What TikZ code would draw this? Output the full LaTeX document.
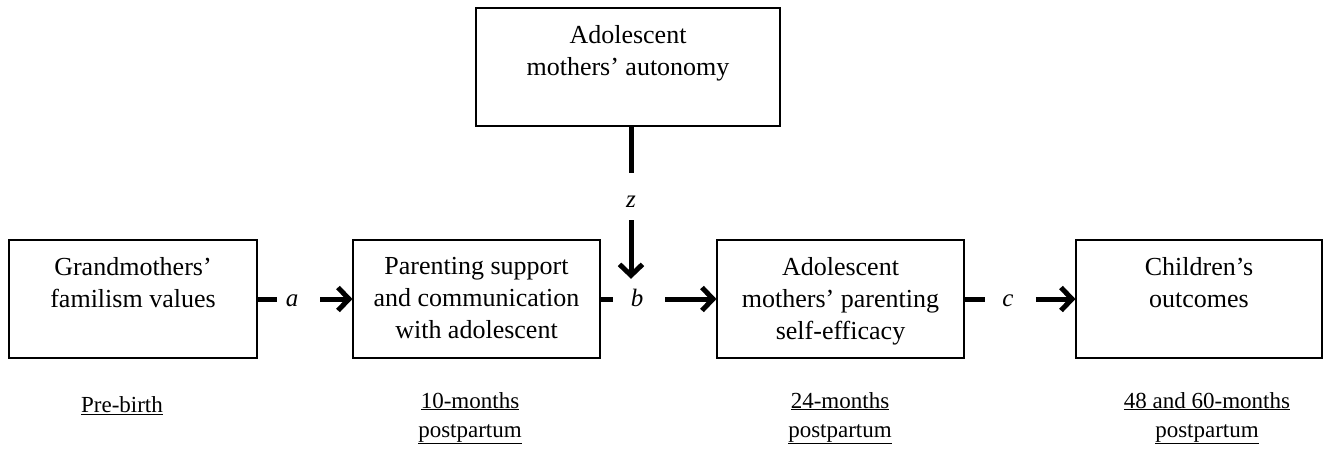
\documentclass[tikz,border=0pt]{standalone}
\usepackage{fontspec}
\setmainfont{Liberation Serif}
\usetikzlibrary{arrows.meta}

\begin{document}
\begin{tikzpicture}[x=1pt, y=-1pt,
  box/.style={draw, line width=1.1pt, minimum width=248pt, minimum height=118pt, inner sep=0pt},
  boxtext/.style={anchor=north, align=center, inner sep=0pt, yshift=-18pt, font=\fontsize{26}{32}\selectfont},
  pathlbl/.style={inner sep=0pt, text height=17pt, text depth=3pt, font=\fontsize{25}{30}\selectfont\itshape},
  stub/.style={line width=5pt},
  arr/.style={line width=5pt, -{Straight Barb[length=11pt, width=23pt]}},
  timelbl/.style={align=center, inner sep=0pt, font=\fontsize{23}{29}\selectfont}]
\useasboundingbox (0,0) rectangle (1329,449);

% boxes
\node[box] (gm) at (133,299) {};
\node[boxtext] (gmtxt) at (gm.north) {Grandmothers'\\familism values};
\node[box, minimum width=247pt] (ps) at (476.5,299) {};
\node[boxtext] (pstxt) at (ps.north) {Parenting support\\and communication\\with adolescent};
\node[box, minimum width=247pt] (se) at (840.5,299) {};
\node[boxtext] (setxt) at (se.north) {Adolescent\\mothers' parenting\\self-efficacy};
\node[box, minimum width=246pt] (co) at (1199,299) {};
\node[boxtext] (cotxt) at (co.north) {Children's\\outcomes};
\node[box, minimum width=304pt] (au) at (628,67) {};
\node[boxtext] (autxt) at (au.north) {Adolescent\\mothers' autonomy};

% path labels
\node[pathlbl] (a) at (292,299) {a};
\node[pathlbl] (b) at (637,299) {b};
\node[pathlbl] (c) at (1008,299) {c};
\node[pathlbl] (z) at (631,200) {z};

% paths
\draw[stub, shorten >=9pt] (gm.east) -- (a);
\draw[arr, shorten <=22pt] (a) -- (ps);
\draw[stub, shorten >=18pt] (ps.east) -- (b);
\draw[arr, shorten <=22pt] (b) -- (se);
\draw[stub, shorten >=17pt] (se.east) -- (c);
\draw[arr, shorten <=22pt] (c) -- (co);
\draw[stub, shorten >=17pt] (z |- au.south) -- (z);
\draw[arr, shorten <=10pt, shorten >=10pt] (z) -- (z |- b.north);

% time points
\node[timelbl] (t1) at (122,406) {\underline{Pre-birth}};
\node[timelbl] (t2) at (470,418) {\underline{10-months}\\\underline{postpartum}};
\node[timelbl] (t3) at (840,418) {\underline{24-months}\\\underline{postpartum}};
\node[timelbl] (t4) at (1207,418) {\underline{48 and 60-months}\\\underline{postpartum}};
\end{tikzpicture}
\end{document}
